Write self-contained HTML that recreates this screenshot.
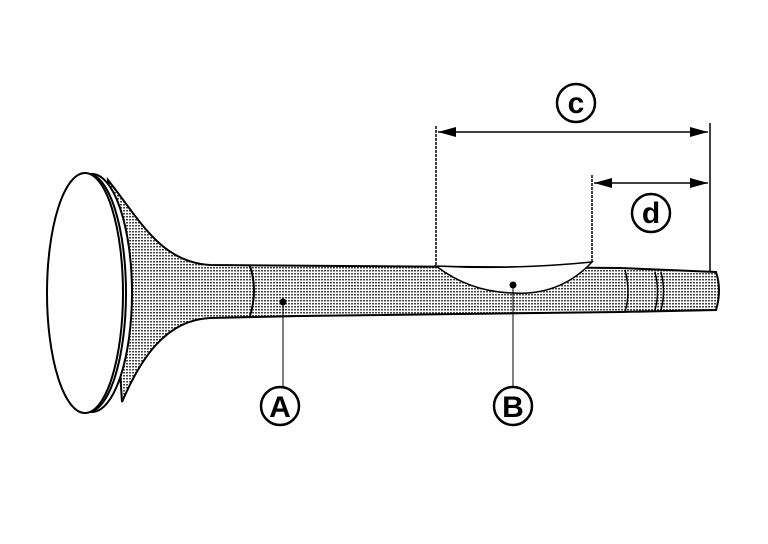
<!DOCTYPE html>
<html><head><meta charset="utf-8"><style>html,body{margin:0;padding:0;background:#fff}svg{display:block}</style></head>
<body>
<svg width="768" height="544" viewBox="0 0 768 544" xmlns="http://www.w3.org/2000/svg">
<defs>
<pattern id="dots" width="3" height="3" patternUnits="userSpaceOnUse">
<rect width="3" height="3" fill="#fff"/>
<rect width="2" height="1.5" fill="#444"/>
</pattern>
<marker id="ar" markerWidth="18" markerHeight="10" refX="18" refY="5" orient="auto" markerUnits="userSpaceOnUse">
<path d="M0,0 L18,5 L0,10 Z" fill="#000"/>
</marker>
</defs>
<g stroke="#000" stroke-width="2" fill="none">
<path d="M108,180 C140,220 160,262 210,265 L620,268 L716,272 Q722,290 716,310 L620,312 L300,316 L210,318 C165,320 140,360 122,402 Z" fill="url(#dots)"/>
<path d="M436,266 Q513,270 592,262 Q560,296 513,293 Q470,292 436,266 Z" fill="#fff" stroke-width="1.5"/>
<path d="M250,266 Q258,290 250,316" stroke-width="2"/>
<path d="M625,270 Q631,292 625,312" stroke-width="1.5"/>
<path d="M655,272 Q660,292 655,310" stroke-width="1.5"/>
<path d="M661,272 Q666,292 661,310" stroke-width="1.5"/>
<ellipse cx="92" cy="293" rx="40" ry="119" fill="#fff"/>
<ellipse cx="88" cy="293" rx="38" ry="119" fill="#fff"/>
<ellipse cx="85" cy="293" rx="38" ry="120" fill="#fff"/>
<line x1="436" y1="126" x2="436" y2="266" stroke-width="1.5" stroke-dasharray="3,1"/>
<line x1="592" y1="175" x2="592" y2="262" stroke-width="1.5" stroke-dasharray="3,1"/>
<line x1="710" y1="123" x2="710" y2="272" stroke-width="1.5"/>
<line x1="460" y1="132" x2="708" y2="132" stroke-width="1.5" marker-end="url(#ar)"/>
<line x1="460" y1="132" x2="438" y2="132" stroke-width="1.5" marker-end="url(#ar)"/>
<line x1="612" y1="183" x2="708" y2="183" stroke-width="1.5" marker-end="url(#ar)"/>
<line x1="612" y1="183" x2="594" y2="183" stroke-width="1.5" marker-end="url(#ar)"/>
<line x1="283" y1="302" x2="283" y2="388" stroke-width="1"/>
<line x1="513" y1="285" x2="513" y2="388" stroke-width="1"/>
<circle cx="283" cy="302" r="2.5" fill="#000"/>
<circle cx="513" cy="285" r="2.5" fill="#000"/>
<circle cx="576" cy="103" r="19" stroke-width="2.5"/>
<circle cx="651" cy="213" r="19" stroke-width="2.5"/>
<circle cx="280" cy="406" r="19" stroke-width="2.5"/>
<circle cx="513" cy="406" r="19" stroke-width="2.5"/>
</g>
<g font-family="Liberation Sans, sans-serif" font-weight="bold" font-size="30" text-anchor="middle">
<text x="576" y="113">c</text>
<text x="651" y="223">d</text>
<text x="280" y="417">A</text>
<text x="513" y="417">B</text>
</g>
</svg>
</body></html>
